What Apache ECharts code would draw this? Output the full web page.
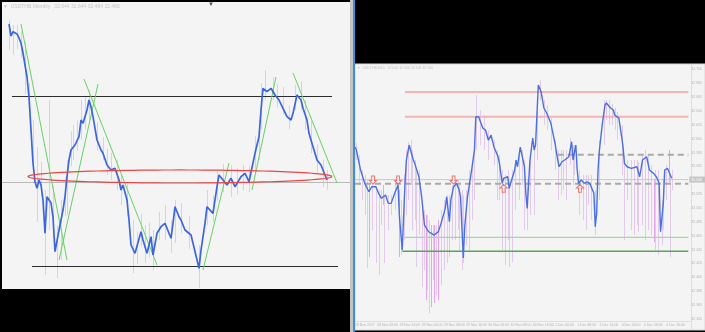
<!DOCTYPE html>
<html><head><meta charset="utf-8">
<script src="https://cdn.jsdelivr.net/npm/echarts@6/dist/echarts.min.js"></script>
<style>html,body{margin:0;padding:0;background:#000;}#c{width:705px;height:332px;}</style>
</head><body><div id="c"></div>
<script>
// ================= LEFT: USDTHB Monthly =================
const leftMonths = [0,1,2,4,5,6,7,9,10,11,12,13,14,15,16,17,18,19,20,21,22,23,25,26,27,28,29,30,31,33,35,36,37,39,40,41,42,44,46,47,49,51,53,55,56,57,59,60,61,63,64,66,67,69,71,72,74,76,78,81,82,83,85,86,88,91,92,95,96,98,99,100,102,104,105,107,109,111,113,116,118,120,121,123,125,126,127,129,131,133,135,137,139,141,142,144,146,147,149,150,152,154,156,158,159];
const leftMA = [39.734,39.183,39.380,39.275,39.091,38.861,38.401,37.298,36.378,34.861,33.343,32.483,32.180,32.562,32.332,31.642,30.111,31.794,31.872,31.504,30.860,29.265,30.263,30.722,31.182,31.794,32.713,33.481,33.941,34.171,34.553,35.320,35.169,35.780,36.240,35.932,35.472,34.401,33.941,33.789,33.251,33.021,33.100,32.562,32.102,32.332,31.642,30.722,29.573,29.191,29.265,30.184,29.803,29.191,29.954,29.113,30.111,30.414,30.571,29.881,30.571,31.334,30.874,30.722,30.263,30.033,29.651,28.501,29.343,30.571,31.334,31.412,31.030,32.253,32.791,32.562,32.332,32.640,32.253,32.713,32.870,32.483,32.483,33.789,34.553,35.780,36.778,36.622,36.778,36.470,36.240,35.858,35.472,35.320,35.628,36.470,36.240,35.858,35.320,34.709,34.093,33.481,33.251,32.791,32.562];
const leftWickMonths = [0,2,4,6,8,10,12,14,16,18,20,22,24,26,28,29,31,32,34,36,38,40,44,47,49,51,54,56,59,62,64,66,68,70,72,75,78,81,83,86,90,95,99,102,104,107,111,114,117,120,123,125,126,128,132,134,137,140,143,146,148,151,154,157,159];
const leftWickHigh = [39.918,39.689,39.7,39.4,38.9,37.022,35.320,34.079,33.4,32.102,36.240,32.3,30.493,31.642,32.7,33.481,34.8,35.090,35.3,36.240,36.4,36.700,35.2,34.539,34.0,33.803,33.5,32.791,32.4,30.722,30.2,31.0,30.493,30.6,30.263,31.1,31.412,30.7,31.642,31.5,30.9,29.573,32.102,31.872,33.0,33.3,33.251,33.1,33.251,33.2,34.6,35.320,37.0,37.619,37.298,37.0,36.838,36.0,36.930,37.1,36.240,35.3,34.2,33.481,33.021];
const leftWickLow = [38.539,38.309,38.6,38.2,36.5,35.780,33.021,30.630,31.8,28.194,30.263,29.9,28.056,28.883,30.9,30.952,33.2,33.481,33.9,34.401,34.9,35.320,33.9,33.481,32.8,32.562,32.1,31.412,30.9,28.285,28.7,29.5,28.745,29.0,28.423,29.8,29.803,29.2,29.665,30.1,29.4,27.596,30.493,30.630,31.6,32.0,31.780,31.9,32.102,32.0,33.0,33.481,34.9,36.240,36.240,35.9,35.550,34.9,35.780,35.8,34.861,33.8,32.9,32.240,32.102];
// trend lines: [month1, price1, month2, price2]
const leftTrendLines = [[6,39.734,29,28.883],[25,28.883,44.5,36.976],[37.5,37.206,74,28.653],[97,28.423,110,33.343],[121.5,32.102,133.5,37.298],[142,37.481,164,32.424]];
// horizontal levels: [fromMonth, toMonth, price]
const leftLevels = [[1.5,161.5,36.424],[11.5,164.5,28.607]];
const leftClose = 32.466;
// ellipse: [centre month, centre price, half width (months), half height (price)]
const leftEllipse = [85.5,32.723,76,0.30];

// ================= RIGHT: USDTHB M30 =================
const rightBars = [0,1,4,7,10,12,15,17,19,22,24,26,29,31,32,34,36,37,39,42,43,46,48,50,53,55,57,60,62,65,66,68,69,71,73,75,76,78,79,81,84,86,87,89,92,94,96,98,100,103,104,105,106,107,110,111,112,115,116,117,119,122,123,124,125,126,128,129,130,132,134,136,138,141,142,144,146,147,149,151,154,156,157,159,160,161,163,165,167,169,172,173,174,175,176,178,180,181,184,186,187,190,192,193,194,196,199,203,205,207,210,212,215,217,219,220,222,223,225,228];
const rightMA = [32.5929,32.5886,32.5598,32.5406,32.5285,32.5357,32.5357,32.5262,32.5190,32.5237,32.5117,32.5117,32.5285,32.5381,32.4924,32.4444,32.5406,32.5742,32.5958,32.5742,32.5694,32.5501,32.5213,32.4805,32.4708,32.4685,32.4660,32.4708,32.4829,32.5045,32.5213,32.4852,32.5165,32.5357,32.5406,32.5309,32.5213,32.4329,32.4780,32.5213,32.5598,32.5886,32.6366,32.6366,32.6203,32.6174,32.6030,32.6102,32.5934,32.5789,32.5694,32.5550,32.5406,32.5478,32.5501,32.5334,32.5357,32.5598,32.5742,32.5645,32.5929,32.5645,32.5262,32.5045,32.5406,32.5742,32.6059,32.5886,32.5958,32.6823,32.6727,32.6492,32.6420,32.6275,32.6247,32.5987,32.5742,32.5645,32.5717,32.5742,32.5789,32.6006,32.5742,32.5958,32.5598,32.5406,32.5453,32.5406,32.5429,32.5406,32.5262,32.4780,32.4973,32.5598,32.5886,32.6247,32.6535,32.6564,32.6492,32.6463,32.6391,32.6347,32.6078,32.5934,32.5694,32.5645,32.5622,32.5645,32.5501,32.5742,32.5789,32.5598,32.5550,32.5501,32.5406,32.4708,32.5117,32.5598,32.5622,32.5478];
const rightWickBars = [1,3,5,7,9,12,15,17,19,21,24,26,29,31,33,35,37,38,40,41,43,44,46,48,50,52,53,56,58,62,64,66,68,70,72,74,75,77,78,80,82,84,86,87,90,93,96,100,102,104,106,108,110,111,113,115,118,120,122,124,126,129,131,133,136,138,141,144,146,148,150,152,155,157,158,161,164,166,168,170,173,176,179,181,183,185,187,189,192,194,196,199,201,203,204,207,209,211,213,216,218,221,222,224,227,228];
const rightWickHigh = [32.5987,32.5814,32.5598,32.5526,32.5453,32.5453,32.5367,32.5309,32.5309,32.5237,32.5237,32.5237,32.5381,32.5453,32.5165,32.5526,32.5886,32.6001,32.6030,32.5886,32.5742,32.5598,32.5598,32.5165,32.5021,32.4949,32.4877,32.4805,32.4805,32.5021,32.5165,32.5237,32.5237,32.5381,32.5453,32.5453,32.5381,32.5309,32.5237,32.5309,32.5598,32.5742,32.6030,32.6679,32.6463,32.6391,32.6174,32.6030,32.5886,32.5814,32.5598,32.5526,32.5598,32.5453,32.5598,32.5742,32.5886,32.5886,32.5742,32.5453,32.5814,32.5886,32.6607,32.6896,32.6607,32.6535,32.6347,32.6030,32.5886,32.5886,32.5886,32.5886,32.6059,32.5958,32.5958,32.5598,32.5526,32.5526,32.5526,32.5526,32.5309,32.6030,32.6607,32.6607,32.6607,32.6549,32.6492,32.6434,32.6247,32.5814,32.5742,32.5742,32.5742,32.5742,32.5713,32.5814,32.5886,32.5814,32.5670,32.5598,32.5598,32.5165,32.5453,32.5670,32.5526,32.5598];
const rightWickLow = [32.5742,32.5381,32.5165,32.4949,32.4185,32.4732,32.4257,32.4084,32.4805,32.4257,32.4732,32.4949,32.5021,32.5093,32.4372,32.4588,32.4949,32.5165,32.5381,32.4732,32.4877,32.4199,32.4660,32.3910,32.4156,32.3867,32.3536,32.4011,32.3795,32.3939,32.4156,32.4257,32.4343,32.4588,32.4588,32.4732,32.4444,32.4156,32.4257,32.4516,32.4444,32.4877,32.5165,32.5886,32.5958,32.5886,32.5742,32.5670,32.5165,32.5165,32.4444,32.4228,32.4588,32.4199,32.4271,32.5021,32.5165,32.5381,32.4732,32.4732,32.4949,32.4949,32.5742,32.6607,32.6247,32.6174,32.5886,32.5598,32.5165,32.5237,32.5309,32.5165,32.5670,32.5381,32.5526,32.4949,32.4877,32.4732,32.5093,32.4877,32.4660,32.5165,32.5958,32.6319,32.6247,32.6247,32.6174,32.6030,32.5526,32.4588,32.5165,32.4732,32.4660,32.4805,32.4704,32.4805,32.4588,32.4732,32.4660,32.4444,32.4372,32.4516,32.4732,32.5165,32.4343,32.5309];
const rightBrightBars = [10,20,32,51,55,57,60,215,226];
const rightBrightHigh = [32.5410,32.5381,32.5309,32.4949,32.4805,32.4805,32.4877,32.5453,32.5886];
const rightBrightLow = [32.4343,32.5093,32.4343,32.3723,32.3622,32.3680,32.3723,32.4559,32.5425];
const rightLevelStart = [36,36,146,0,36,34];
const rightLevelPrice = [32.6722,32.6366,32.5818,32.5400,32.4627,32.4425];
const rightDownArrowBars = [13,31,71];
const rightDownArrowPrice = [32.5453,32.5453,32.5453];
const rightUpArrowBars = [107,162];
const rightUpArrowPrice = [32.5334,32.5334];
const rightClose = 32.546;
const rightDateLabels = ['28 Nov 2017','28 Nov 08:00','28 Nov 16:00','29 Nov 00:00','29 Nov 08:00','29 Nov 16:00','30 Nov 00:00','30 Nov 08:00','30 Nov 16:00','1 Dec 00:00','1 Dec 08:00','1 Dec 16:00','4 Dec 00:00','4 Dec 08:00','4 Dec 16:00'];

// ================= build =================
const FONT = 'Liberation Sans, DejaVu Sans, sans-serif';
function wickSeries(gi, bars, highs, lows, color, z) {
  return {
    type: 'custom', xAxisIndex: gi, yAxisIndex: gi, z: z, silent: true,
    data: bars.map((b, i) => [b, highs[i], lows[i]]),
    encode: { x: 0, y: [1, 2] },
    renderItem: function (params, api) {
      const a = api.coord([api.value(0), api.value(1)]);
      const b = api.coord([api.value(0), api.value(2)]);
      const x = Math.round(a[0]) + 0.5;
      return { type: 'line', shape: { x1: x, y1: a[1], x2: x, y2: b[1] }, style: { stroke: color, lineWidth: 1 } };
    }
  };
}
function segSeries(gi, x1, y1, x2, y2, color, width, type, z) {
  return { type: 'line', xAxisIndex: gi, yAxisIndex: gi, data: [[x1, y1], [x2, y2]], symbol: 'none', silent: true,
    lineStyle: { color: color, width: width, type: type || 'solid' }, z: z || 3 };
}
// crisp horizontal level (snapped to pixel grid)
function hLevel(gi, x1, x2, y, color, z) {
  return {
    type: 'custom', xAxisIndex: gi, yAxisIndex: gi, z: z, silent: true,
    data: [[x1, x2, y]], encode: { x: [0, 1], y: 2 },
    renderItem: function (params, api) {
      const a = api.coord([api.value(0), api.value(2)]);
      const b = api.coord([api.value(1), api.value(2)]);
      const yy = Math.round(a[1]) + 0.5;
      return { type: 'line', shape: { x1: a[0], y1: yy, x2: b[0], y2: yy }, style: { stroke: color, lineWidth: 1 } };
    }
  };
}

const series = [];
series.push(wickSeries(0, leftWickMonths, leftWickHigh, leftWickLow, '#e2cbea', 1));
series.push(hLevel(0, -3.5, 170.5, leftClose, '#b9b9b9', 1));
leftLevels.forEach(l => series.push(hLevel(0, l[0], l[1], l[2], '#2c2c2c', 3)));
leftTrendLines.forEach(t => series.push(segSeries(0, t[0], t[1], t[2], t[3], '#66d266', 1, 'solid', 4)));
series.push({ type: 'line', xAxisIndex: 0, yAxisIndex: 0, data: leftMonths.map((m, i) => [m, leftMA[i]]),
  symbol: 'none', lineStyle: { color: '#3d66dc', width: 1.7 }, z: 5, silent: true });
series.push({ type: 'custom', xAxisIndex: 0, yAxisIndex: 0, z: 6, silent: true, data: [leftEllipse],
  encode: { x: 0, y: 1 },
  renderItem: function (params, api) {
    const c = api.coord([api.value(0), api.value(1)]);
    const s = api.size([api.value(2), api.value(3)]);
    const pts = [];
    for (let k = 0; k <= 120; k++) {
      const t = k / 120 * Math.PI * 2;
      pts.push([c[0] + s[0] * Math.cos(t), c[1] + s[1] * Math.sin(t)]);
    }
    return { type: 'polyline', shape: { points: pts }, style: { fill: null, stroke: '#ea4646', lineWidth: 1.2 } };
  }
});

series.push(wickSeries(1, rightWickBars, rightWickHigh, rightWickLow, '#e2cbea', 1));
series.push(wickSeries(1, rightBrightBars, rightBrightHigh, rightBrightLow, '#e6a2ea', 1));
series.push({ type: 'line', xAxisIndex: 1, yAxisIndex: 1, data: [[0, rightClose], [240, rightClose]], symbol: 'none', silent: true,
  lineStyle: { color: '#c9c9c9', width: 1 }, z: 2,
  endLabel: { show: true, formatter: rightClose.toFixed(3), backgroundColor: '#c4c4c4', color: '#ffffff', fontSize: 3.5, fontFamily: FONT, padding: [1, 3, 1, 2], distance: 1 } });
const lvlStyles = [['#f4b4b4', 2, 'solid'], ['#f4b4b4', 2, 'solid'], ['#a9a9a9', 2, [6, 4]], ['#a9a9a9', 2, [6, 4]], ['#a8d4a8', 1.2, 'solid'], ['#56a656', 1.5, 'solid']];
rightLevelPrice.forEach((p, i) => series.push(segSeries(1, rightLevelStart[i], p, 240, p, lvlStyles[i][0], lvlStyles[i][1], lvlStyles[i][2], 3)));
series.push({ type: 'line', xAxisIndex: 1, yAxisIndex: 1, data: rightBars.map((b, i) => [b, rightMA[i]]),
  symbol: 'none', lineStyle: { color: '#4a6fe0', width: 1.4 }, z: 5, silent: true });
series.push({ type: 'scatter', xAxisIndex: 1, yAxisIndex: 1, z: 7, silent: true,
  data: rightDownArrowBars.map((b, i) => [b, rightDownArrowPrice[i]]),
  symbol: 'path://M3,0 L7,0 L7,6 L10,6 L5,11 L0,6 L3,6 Z', symbolSize: [7, 8],
  itemStyle: { color: '#f7f7f7', borderColor: '#f05050', borderWidth: 1 } });
series.push({ type: 'scatter', xAxisIndex: 1, yAxisIndex: 1, z: 7, silent: true,
  data: rightUpArrowBars.map((b, i) => [b, rightUpArrowPrice[i]]),
  symbol: 'path://M5,0 L10,5 L7,5 L7,11 L3,11 L3,5 L0,5 Z', symbolSize: [7, 8],
  itemStyle: { color: '#f7f7f7', borderColor: '#f05050', borderWidth: 1 } });

const option = {
  animation: false,
  backgroundColor: '#000000',
  grid: [
    { left: 2, right: 355, top: 3, bottom: 43 },
    { left: 355, right: 14, top: 69.3, bottom: 13 }
  ],
  xAxis: [
    { type: 'value', gridIndex: 0, min: -3.5, max: 170.5, show: false },
    { type: 'value', gridIndex: 1, min: 0, max: 240, interval: 16,
      axisLine: { show: false }, axisTick: { show: false }, splitLine: { show: false },
      axisLabel: { fontSize: 3.5, fontFamily: FONT, color: '#b4b4b4', align: 'left', margin: 4, showMaxLabel: false,
        formatter: v => rightDateLabels[Math.round(v / 16)] || '' } }
  ],
  yAxis: [
    { type: 'value', gridIndex: 0, min: 27.55, max: 40.70, show: false },
    { type: 'value', gridIndex: 1, position: 'right', min: 32.345, max: 32.705, interval: 0.02,
      axisLine: { show: false }, axisTick: { show: false }, splitLine: { show: false },
      axisLabel: { fontSize: 3.5, fontFamily: FONT, color: '#b4b4b4', margin: 3, formatter: v => v.toFixed(3) } }
  ],
  graphic: [
    { type: 'rect', z: -10, silent: true, shape: { x: 2, y: 2, width: 348, height: 287 }, style: { fill: '#f4f4f4' } },
    { type: 'rect', z: -10, silent: true, shape: { x: 355, y: 64, width: 350, height: 266 }, style: { fill: '#f4f4f4', stroke: '#d8d8d8', lineWidth: 1 } },
    { type: 'rect', z: -9, silent: true, shape: { x: 350, y: 0, width: 3, height: 332 }, style: { fill: '#c4c4c4' } },
    { type: 'rect', z: -9, silent: true, shape: { x: 353, y: 0, width: 2, height: 332 }, style: { fill: '#3d8ee2' } },
    { type: 'line', z: -9, silent: true, shape: { x1: 691.5, y1: 64, x2: 691.5, y2: 330 }, style: { stroke: '#dedede', lineWidth: 1 } },
    { type: 'line', z: -9, silent: true, shape: { x1: 355, y1: 321.5, x2: 691, y2: 321.5 }, style: { stroke: '#dedede', lineWidth: 1 } },
    { type: 'text', z: 10, silent: true, x: 3, y: 4, style: { text: '▼  USDTHB,Monthly   32.644 32.644 32.464 32.466', fill: '#c6c6c6', font: '5px ' + FONT } },
    { type: 'text', z: 10, silent: true, x: 208, y: 1, style: { text: '▼', fill: '#505060', font: '6px ' + FONT } },
    { type: 'text', z: 10, silent: true, x: 357, y: 66, style: { text: '▼  USDTHB,M30   32.546 32.546 32.546 32.546', fill: '#c6c6c6', font: '3.5px ' + FONT } }
  ],
  series: series
};
const chart = echarts.init(document.getElementById('c'));
chart.setOption(option);
</script>
</body></html>
